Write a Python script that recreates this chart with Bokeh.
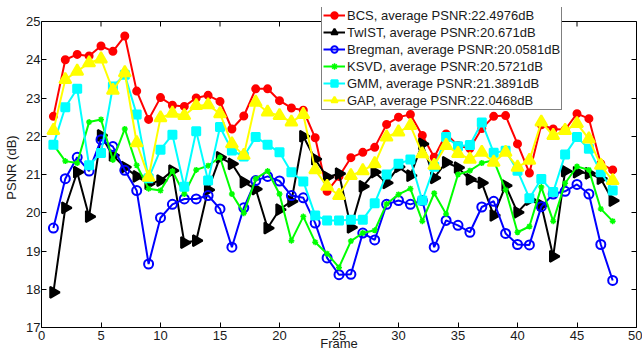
import numpy as np
from bokeh.plotting import figure
from bokeh.models import LinearAxis, FixedTicker, Range1d, Legend, LegendItem, Span
from bokeh.embed import file_html
from bokeh.resources import INLINE

frames = list(range(1, 49))

bcs = [22.52, 24.00, 24.14, 24.10, 24.36, 24.22, 24.62, 23.18, 22.44, 23.01,
       22.81, 22.78, 23.00, 23.07, 22.91, 22.19, 22.53, 23.24, 23.24, 22.93,
       22.74, 22.68, 21.96, 20.56, 20.95, 21.44, 21.58, 21.71, 22.31, 22.50,
       22.57, 22.02, 21.45, 22.06, 21.76, 21.68, 22.20, 22.52, 22.54, 21.80,
       21.04, 22.30, 22.19, 22.17, 22.59, 22.46, 21.28, 21.12]
twist = [17.92, 20.13, 21.06, 19.90, 22.02, 21.50, 21.19, 20.95, 20.76, 20.84,
         21.10, 19.22, 19.27, 20.60, 21.45, 21.28, 20.80, 20.62, 19.60, 20.08,
         20.30, 22.00, 21.40, 20.93, 21.02, 19.62, 20.69, 21.06, 20.78, 21.20,
         20.97, 21.80, 20.91, 21.32, 21.18, 20.87, 20.78, 19.93, 20.71, 20.01,
         20.34, 20.20, 18.86, 21.09, 21.06, 21.03, 20.89, 20.32]
bregman = [19.60, 20.89, 21.45, 21.09, 21.91, 21.73, 21.11, 20.58, 18.66, 19.87,
           20.22, 20.36, 20.36, 20.45, 20.10, 19.10, 20.13, 20.84, 20.95, 20.83,
           20.45, 20.39, 19.73, 18.82, 18.38, 18.39, 19.47, 19.29, 20.22, 20.32,
           20.22, 20.32, 19.10, 19.80, 19.67, 19.49, 20.15, 20.30, 19.46, 19.17,
           19.16, 20.16, 20.49, 20.56, 20.74, 20.49, 19.17, 18.23]
ksvd = [21.78, 21.35, 21.30, 22.37, 22.44, 21.38, 22.19, 21.24, 20.63, 20.58,
        21.09, 20.49, 21.12, 21.23, 21.45, 20.49, 19.99, 20.89, 21.09, 20.49,
        19.27, 19.90, 19.23, 18.93, 18.57, 19.26, 19.47, 19.54, 20.23, 20.48,
        20.63, 19.78, 20.51, 19.97, 21.00, 21.10, 21.30, 21.37, 20.60, 19.49,
        19.64, 20.67, 19.78, 20.77, 21.21, 21.12, 20.10, 19.78]
gmm = [21.78, 22.76, 23.24, 21.24, 21.56, 23.30, 23.61, 22.57, 20.90, 21.65,
       22.04, 20.68, 22.13, 20.84, 22.24, 21.63, 21.47, 21.98, 21.78, 21.58,
       21.06, 20.82, 19.93, 19.80, 19.80, 19.82, 19.82, 20.25, 21.00, 21.28,
       21.39, 20.32, 21.20, 21.98, 21.74, 21.77, 22.36, 21.57, 21.62, 21.10,
       20.38, 20.88, 20.54, 21.52, 21.98, 21.67, 21.06, 20.58]
gap = [22.15, 23.48, 23.70, 23.92, 24.02, 23.20, 23.66, 21.83, 20.93, 22.48,
       22.60, 22.54, 22.80, 22.82, 22.59, 21.80, 21.50, 22.89, 22.63, 22.54,
       22.37, 22.57, 21.12, 20.69, 20.45, 20.97, 21.10, 21.28, 21.98, 22.11,
       22.28, 21.54, 21.24, 21.76, 21.55, 21.40, 21.58, 21.32, 21.58, 21.19,
       21.37, 22.37, 22.02, 22.15, 22.33, 21.93, 21.24, 20.84]

labels = ["BCS, average PSNR:22.4976dB",
          "TwIST, average PSNR:20.671dB",
          "Bregman, average PSNR:20.0581dB",
          "KSVD, average PSNR:20.5721dB",
          "GMM, average PSNR:21.3891dB",
          "GAP, average PSNR:22.0468dB"]
x_ticks = list(range(0, 51, 5))
y_ticks = list(range(17, 26))
y_min, y_max = 17, 25

FONT = "Liberation Sans"
TXT = "#1a1a1a"

# frame: 41..636 px wide, 7..327 px tall; axes box spans 17..25 (25 at 21px)
y_top = y_max + 14 / 38.25

p = figure(width=642, height=353, output_backend="svg", toolbar_location=None,
           x_range=Range1d(0, 50), y_range=Range1d(y_min, y_top),
           min_border_left=41, min_border_right=6, min_border_top=7, min_border_bottom=26)
p.xgrid.visible = False
p.ygrid.visible = False
p.outline_line_color = None
p.background_fill_color = "white"
p.border_fill_color = "white"

for ax in p.xaxis + p.yaxis:
    ax.major_tick_in = 5
    ax.major_tick_out = 0
    ax.minor_tick_in = 0
    ax.minor_tick_out = 0
    ax.axis_line_color = "black"
    ax.major_tick_line_color = "black"
    ax.major_label_text_font = FONT
    ax.major_label_text_font_size = "13px"
    ax.major_label_text_color = TXT
    ax.axis_label_text_font = FONT
    ax.axis_label_text_font_size = "13px"
    ax.axis_label_text_font_style = "normal"
    ax.axis_label_text_color = TXT

p.xaxis.ticker = FixedTicker(ticks=x_ticks)
p.yaxis.ticker = FixedTicker(ticks=y_ticks)
p.yaxis.bounds = (y_min, y_max)
p.xaxis.major_label_standoff = 3
p.xaxis.axis_label = "Frame"
p.xaxis.axis_label_standoff = -7
p.yaxis.major_label_standoff = 1
p.yaxis.axis_label = "PSNR (dB)"
p.yaxis.axis_label_standoff = 4

right = LinearAxis(ticker=FixedTicker(ticks=y_ticks), bounds=(y_min, y_max),
                   major_tick_in=5, major_tick_out=0, minor_tick_in=0, minor_tick_out=0,
                   major_label_overrides={t: "" for t in y_ticks},
                   major_label_standoff=0, axis_line_color="black")
p.add_layout(right, "right")

# top edge of the axes box, with inward ticks
p.add_layout(Span(location=y_max, dimension="width", line_color="black", line_width=1))
p.ray(x=x_ticks, y=[y_max] * len(x_ticks), length=5, length_units="screen",
      angle=-np.pi / 2, line_color="black", line_width=1)

items = []
def series(y, color, label, marker, size, fill=True, angle=0.0, lw=2):
    r1 = p.line(frames, y, line_color=color, line_width=2)
    r2 = p.scatter(frames, y, marker=marker, size=size, angle=angle,
                   line_color=color, line_width=lw,
                   fill_color=color if fill else None)
    items.append(LegendItem(label=label, renderers=[r1, r2]))

series(bcs, "#ff0000", labels[0], "circle", 7)
series(twist, "#000000", labels[1], "triangle", 11, angle=-np.pi / 2)
series(bregman, "#0000ff", labels[2], "circle", 9, fill=False, lw=2)
series(ksvd, "#00ff00", labels[3], "asterisk", 6, lw=1.5)
series(gmm, "#00ffff", labels[4], "square", 8)
series(gap, "#ffff00", labels[5], "triangle", 12)

legend = Legend(items=items, location=(280, 217), label_text_font=FONT,
                label_text_font_size="13px", label_text_color=TXT,
                glyph_width=22, glyph_height=16, label_height=16, spacing=1,
                padding=1, margin=0, label_standoff=2,
                border_line_color="black", border_line_width=1,
                background_fill_color="white", background_fill_alpha=1)
p.add_layout(legend, "center")

open("out.html", "w").write(file_html(p, INLINE))
